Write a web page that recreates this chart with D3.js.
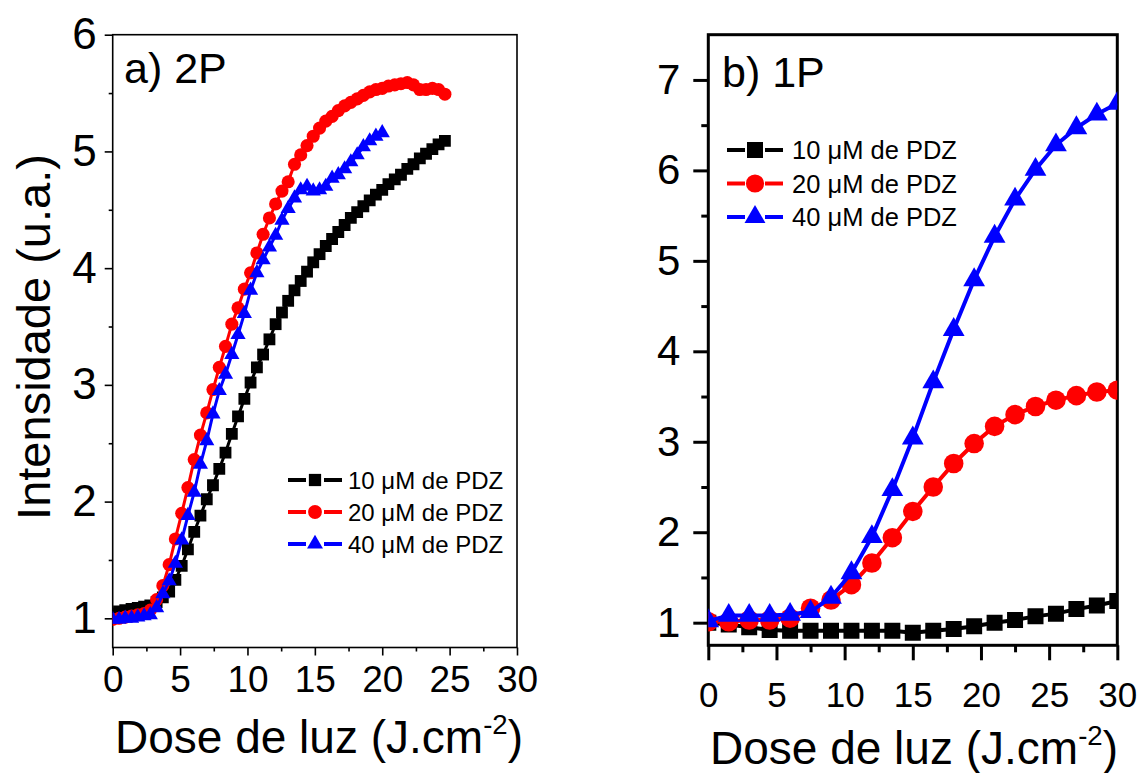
<!DOCTYPE html>
<html>
<head>
<meta charset="utf-8">
<script src="https://cdn.jsdelivr.net/npm/d3@7"></script>
<style>
  body { margin: 0; background: #fff; }
  svg text { font-family: "Liberation Sans", Arial, sans-serif; fill: #000; }
</style>
</head>
<body>
<div id="chart"></div>
<script>
/* DATA - panel a (2P) */

var doseA = [0.00, 0.47, 0.93, 1.40, 1.86, 2.33, 2.79, 3.26, 3.72, 4.19,
             4.65, 5.12, 5.58, 6.05, 6.51, 6.98, 7.44, 7.91, 8.37, 8.84,
             9.30, 9.77, 10.23, 10.70, 11.16, 11.63, 12.09, 12.56, 13.02, 13.49,
             13.95, 14.42, 14.88, 15.35, 15.81, 16.28, 16.74, 17.21, 17.67, 18.14,
             18.60, 19.07, 19.53, 20.00, 20.46, 20.93, 21.39, 21.86, 22.32, 22.79,
             23.25, 23.72, 24.18, 24.65];

var intA10 = [1.04, 1.06, 1.07, 1.08, 1.09, 1.10, 1.11, 1.14, 1.18, 1.23,
              1.33, 1.45, 1.59, 1.74, 1.88, 2.02, 2.14, 2.28, 2.42, 2.58,
              2.73, 2.88, 3.02, 3.15, 3.26, 3.39, 3.52, 3.62, 3.72, 3.81,
              3.89, 3.97, 4.05, 4.12, 4.19, 4.25, 4.31, 4.37, 4.43, 4.48,
              4.53, 4.58, 4.63, 4.67, 4.72, 4.76, 4.80, 4.85, 4.89, 4.94,
              4.98, 5.02, 5.06, 5.09];

var intA20 = [0.99, 1.00, 1.01, 1.02, 1.03, 1.04, 1.07, 1.16, 1.28, 1.46,
              1.68, 1.90, 2.12, 2.36, 2.57, 2.76, 2.96, 3.15, 3.33, 3.52,
              3.66, 3.82, 3.96, 4.13, 4.29, 4.43, 4.55, 4.66, 4.74, 4.89,
              4.97, 5.05, 5.13, 5.20, 5.26, 5.30, 5.35, 5.39, 5.42, 5.45,
              5.48, 5.51, 5.53, 5.54, 5.56, 5.57, 5.58, 5.59, 5.57, 5.53,
              5.53, 5.54, 5.53, 5.49];

var intA40 = [0.99, 0.99, 1.00, 1.00, 1.01, 1.02, 1.03, 1.09, 1.21, 1.32,
              1.47, 1.67, 1.88, 2.08, 2.32, 2.52, 2.75, 2.95, 3.09, 3.26,
              3.43, 3.61, 3.81, 3.96, 4.07, 4.18, 4.28, 4.41, 4.51, 4.60,
              4.67, 4.70, 4.66, 4.67, 4.70, 4.77, 4.80, 4.85, 4.91, 4.97,
              5.04, 5.09, 5.13, 5.16];

/* DATA - panel b (1P) */

var doseB = [0, 1.5, 3, 4.5, 6, 7.5, 9, 10.5, 12, 13.5, 15,
             16.5, 18, 19.5, 21, 22.5, 24, 25.5, 27, 28.5, 30];

var intB10 = [1.00, 0.98, 0.95, 0.92, 0.91, 0.91, 0.91, 0.91, 0.91, 0.91, 0.89,
              0.91, 0.93, 0.96, 1.00, 1.03, 1.07, 1.10, 1.15, 1.19, 1.24];

var intB20 = [1.01, 1.01, 1.03, 1.03, 1.05, 1.16, 1.25, 1.42, 1.66, 1.94, 2.23,
              2.50, 2.76, 2.98, 3.17, 3.30, 3.39, 3.46, 3.51, 3.55, 3.57];

var intB40 = [1.02, 1.08, 1.08, 1.08, 1.09, 1.12, 1.28, 1.55, 1.95, 2.47, 3.04,
              3.66, 4.24, 4.79, 5.27, 5.68, 6.01, 6.28, 6.47, 6.62, 6.74];

var seriesNames = ["10 \u03bcM de PDZ", "20 \u03bcM de PDZ", "40 \u03bcM de PDZ"];
var seriesColors = ["#000000", "#ff0000", "#0000ff"];

var xTicks = [0, 5, 10, 15, 20, 25, 30];
var xMinor = [2.5, 7.5, 12.5, 17.5, 22.5, 27.5];
var yTicksA = [1, 2, 3, 4, 5, 6];
var yMinorA = [1.5, 2.5, 3.5, 4.5, 5.5];
var yTicksB = [1, 2, 3, 4, 5, 6, 7];
var yMinorB = [1.5, 2.5, 3.5, 4.5, 5.5, 6.5];

var W = 1141, H = 773;

var svg = d3.select("#chart").append("svg")
            .attr("width", W)
            .attr("height", H);

function zip(xs, ys){
  return ys.map(function(y, i){ return {x: xs[i], y: y}; });
}

function drawPanel(p){

  var x = d3.scaleLinear().domain([0, 30]).range([p.left, p.right]);
  var y = d3.scaleLinear().domain(p.yDomain).range([p.bottom, p.top]);

  var g = svg.append("g");

  // clip for the data
  svg.append("clipPath").attr("id", p.id + "clip")
     .append("rect")
     .attr("x", p.left).attr("y", p.top)
     .attr("width", p.right - p.left).attr("height", p.bottom - p.top);

  // axes: minor first, then major
  function styleAxis(sel){
    sel.select(".domain").remove();
    sel.selectAll("line").attr("stroke", "#000").attr("stroke-width", p.sw);
  }

  g.append("g")
   .attr("transform", "translate(0," + p.bottom + ")")
   .call(d3.axisBottom(x).tickValues(xMinor).tickSize(p.minorLen).tickFormat(""))
   .call(styleAxis);

  var xa = g.append("g")
   .attr("transform", "translate(0," + p.bottom + ")")
   .call(d3.axisBottom(x).tickValues(xTicks).tickSize(p.majorLen)
           .tickPadding(p.xPad).tickFormat(d3.format("d")))
   .call(styleAxis);
  xa.selectAll("text").attr("font-size", p.xFont).attr("font-family", null);

  g.append("g")
   .attr("transform", "translate(" + p.left + ",0)")
   .call(d3.axisLeft(y).tickValues(p.yMinor).tickSize(p.minorLen).tickFormat(""))
   .call(styleAxis);

  var ya = g.append("g")
   .attr("transform", "translate(" + p.left + ",0)")
   .call(d3.axisLeft(y).tickValues(p.yTicks).tickSize(p.majorLen)
           .tickPadding(p.yPad).tickFormat(d3.format("d")))
   .call(styleAxis);
  ya.selectAll("text").attr("font-size", p.yFont).attr("font-family", null);

  // frame
  g.append("rect")
   .attr("x", p.left).attr("y", p.top)
   .attr("width", p.right - p.left).attr("height", p.bottom - p.top)
   .attr("fill", "none")
   .attr("stroke", "#000")
   .attr("stroke-width", p.sw);

  var line = d3.line().x(function(d){ return x(d.x); }).y(function(d){ return y(d.y); });

  var plot = g.append("g").attr("clip-path", "url(#" + p.id + "clip)");

  p.series.forEach(function(s, i){
    var pts = zip(s.dose, s.vals);
    plot.append("path")
        .datum(pts)
        .attr("d", line)
        .attr("fill", "none")
        .attr("stroke", seriesColors[i])
        .attr("stroke-width", p.lineW);

    plot.selectAll(".m" + i)
        .data(pts)
        .enter().append("path")
        .attr("class", "m" + i)
        .attr("transform", function(d){ return "translate(" + x(d.x) + "," + y(d.y) + ")"; })
        .attr("d", d3.symbol().type(p.symbols[i]).size(p.symSizes[i]))
        .attr("fill", seriesColors[i]);
  });

  // panel label
  g.append("text")
   .attr("x", p.label.x).attr("y", p.label.y)
   .attr("font-size", 43)
   .text(p.label.text);

  // legend
  var lg = g.append("g");
  seriesNames.forEach(function(name, i){
    var ly = p.legend.y + i * p.legend.dy;
    var lx = p.legend.x;
    var half = p.legend.len / 2;
    lg.append("line")
      .attr("x1", lx).attr("x2", lx + half - p.legend.gap)
      .attr("y1", ly).attr("y2", ly)
      .attr("stroke", seriesColors[i]).attr("stroke-width", 4);
    lg.append("line")
      .attr("x1", lx + half + p.legend.gap).attr("x2", lx + p.legend.len)
      .attr("y1", ly).attr("y2", ly)
      .attr("stroke", seriesColors[i]).attr("stroke-width", 4);
    lg.append("path")
      .attr("transform", "translate(" + (lx + half) + "," + ly + ")")
      .attr("d", d3.symbol().type(p.symbols[i]).size(p.legend.symSizes[i]))
      .attr("fill", seriesColors[i]);
    lg.append("text")
      .attr("x", lx + p.legend.len + p.legend.textGap)
      .attr("y", ly)
      .attr("dy", "0.36em")
      .attr("font-size", p.legend.font)
      .text(name);
  });

  // x title
  var xt = g.append("text")
   .attr("x", p.xTitle.x).attr("y", p.xTitle.y)
   .attr("text-anchor", "middle")
   .attr("font-size", p.xTitle.font);
  xt.append("tspan").text("Dose de luz (J.cm");
  xt.append("tspan").attr("dy", -p.xTitle.font * 0.42).attr("font-size", p.xTitle.font * 0.6).text("-2");
  xt.append("tspan").attr("dy", p.xTitle.font * 0.42).text(")");

  return {x: x, y: y};
}

var symbols = [d3.symbolSquare, d3.symbolCircle, d3.symbolTriangle];

drawPanel({
  id: "a",
  left: 112.7, right: 517, top: 34.7, bottom: 647.5,
  yDomain: [0.75, 6],
  yTicks: yTicksA, yMinor: yMinorA,
  sw: 1.6, majorLen: 8, minorLen: 4,
  xPad: 10, yPad: 8, xFont: 37, yFont: 44,
  lineW: 3,
  symbols: symbols, symSizes: [140, 135, 100],
  series: [
    {dose: doseA, vals: intA10},
    {dose: doseA, vals: intA20},
    {dose: doseA, vals: intA40}
  ],
  label: {x: 124, y: 83, text: "a) 2P"},
  legend: {x: 288, y: 480, dy: 32, len: 54, gap: 9, textGap: 6, font: 24,
           symSizes: [150, 150, 110]},
  xTitle: {x: 319, y: 753, font: 46}
});

drawPanel({
  id: "b",
  left: 708.3, right: 1117.3, top: 34.7, bottom: 645.3,
  yDomain: [0.75, 7.5],
  yTicks: yTicksB, yMinor: yMinorB,
  sw: 3, majorLen: 15, minorLen: 7,
  xPad: 22, yPad: 13, xFont: 35, yFont: 42,
  lineW: 4,
  symbols: symbols, symSizes: [256, 300, 205],
  series: [
    {dose: doseB, vals: intB10},
    {dose: doseB, vals: intB20},
    {dose: doseB, vals: intB40}
  ],
  label: {x: 722, y: 87, text: "b) 1P"},
  legend: {x: 727, y: 150, dy: 33.5, len: 56, gap: 10, textGap: 9, font: 25.5,
           symSizes: [256, 260, 190]},
  xTitle: {x: 914, y: 764, font: 46}
});

// y title (only on panel a)
svg.append("text")
   .attr("transform", "translate(50,337) rotate(-90)")
   .attr("text-anchor", "middle")
   .attr("font-size", 47)
   .text("Intensidade (u.a.)");
</script>
</body>
</html>
